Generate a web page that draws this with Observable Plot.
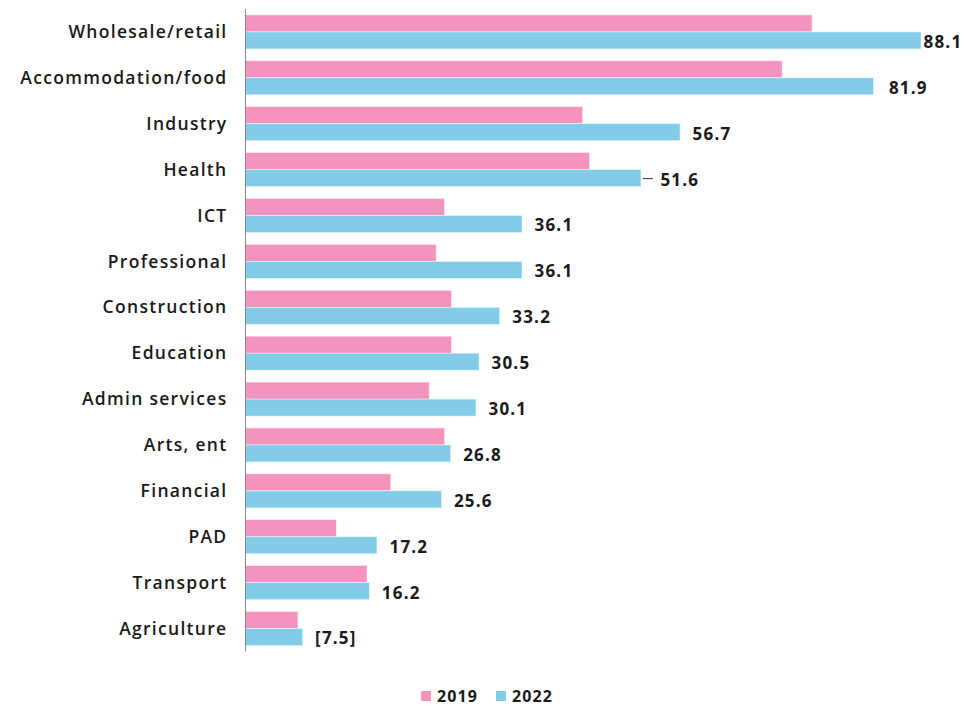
<!DOCTYPE html>
<html>
<head>
<meta charset="utf-8">
<script src="https://cdn.jsdelivr.net/npm/d3@7"></script>
<script src="https://cdn.jsdelivr.net/npm/@observablehq/plot@0.6"></script>
<style>
  html, body { margin: 0; padding: 0; background: #fff; }
  #chart { width: 978px; }
  #chart g[aria-label="y-axis tick label"] text { letter-spacing: 1.3px; }
  #chart g.vlabel text { letter-spacing: 1.2px; }
  .legend { position: relative; height: 36px; width: 978px; font-family: "Open Sans", sans-serif; font-weight: 700; font-size: 16px; color: #1a1a1a; letter-spacing: 1.1px; }
  .legend .items { position: absolute; left: 421px; top: 13px; display: flex; align-items: center; gap: 0; }
  .legend .sw { display: inline-block; width: 10px; height: 10px; margin-right: 6px; }
  .legend .it { display: flex; align-items: center; margin-right: 18px; }
</style>
</head>
<body>
<div id="chart"></div>
<script>
const categories = ["Wholesale/retail","Accommodation/food","Industry","Health","ICT","Professional","Construction","Education","Admin services","Arts, ent","Financial","PAD","Transport","Agriculture"];
const values2019 = [73.9, 70.0, 44.0, 44.9, 26.0, 24.9, 26.9, 26.9, 24.0, 26.0, 19.0, 11.9, 15.9, 6.9];
const values2022 = [88.1, 81.9, 56.7, 51.6, 36.1, 36.1, 33.2, 30.5, 30.1, 26.8, 25.6, 17.2, 16.2, 7.5];
const labels2022 = ["88.1","81.9","56.7","51.6","36.1","36.1","33.2","30.5","30.1","26.8","25.6","17.2","16.2","[7.5]"];
const seriesNames = ["2019","2022"];
const seriesColors = ["#f393be","#82cce8"];

const rows = categories.map((c, i) => ({category: c, v2019: values2019[i], v2022: values2022[i], label: labels2022[i], i}));

const H = 672, mTop = 9, mBottom = 20.5;
const padIn = 0.26, padOut = 0.13;
const step = (H - mTop - mBottom) / (categories.length - padIn + 2 * padOut);
const bw = step * (1 - padIn);
const half = bw / 2;
const maxV = d3.max(values2022);

const first = rows.filter(d => d.v2022 === maxV);
const leader = rows.filter(d => d.category === "Health");
const accom = rows.filter(d => d.category === "Accommodation/food");
const rest = rows.filter(d => d.v2022 !== maxV && d.category !== "Health" && d.category !== "Accommodation/food");

const labelStyle = {fontSize: 17, fontWeight: 700, fill: "#1a1a1a", textAnchor: "start", fontFamily: "Open Sans, sans-serif", className: "vlabel"};

const chart = Plot.plot({
  width: 978,
  height: H,
  marginTop: mTop,
  marginBottom: mBottom,
  marginLeft: 245,
  marginRight: 57,
  style: {fontFamily: "Open Sans, sans-serif", background: "#fff"},
  x: {domain: [0, maxV], axis: null},
  y: {domain: categories, paddingInner: padIn, paddingOuter: padOut, round: false, label: null, tickSize: 0, tickPadding: 18},
  marks: [
    Plot.axisY({tickSize: 0, tickPadding: 18, fontSize: 17.5, fontWeight: 600, fill: "#1a1a1a", label: null}),
    Plot.barX(rows, {y: "category", x: "v2019", fill: seriesColors[0], insetBottom: half, stroke: "#fde6f0", strokeWidth: 0.6}),
    Plot.barX(rows, {y: "category", x: "v2022", fill: seriesColors[1], insetTop: half, stroke: "#e3f5fc", strokeWidth: 0.6}),
    Plot.ruleX([0], {stroke: "#8a8a8a", strokeWidth: 1}),
    Plot.text(rest, {y: "category", x: "v2022", text: "label", dx: 12, dy: half / 2 + 1.5, ...labelStyle}),
    Plot.text(first, {y: "category", x: "v2022", text: "label", dx: 2, dy: half / 2 + 1.5, ...labelStyle}),
    Plot.text(accom, {y: "category", x: "v2022", text: "label", dx: 15, dy: half / 2 + 1.5, ...labelStyle}),
    Plot.ruleY(leader, {y: "category", x1: d => d.v2022 + 0.25, x2: d => d.v2022 + 1.55, dy: half / 2, stroke: "#333", strokeWidth: 1}),
    Plot.text(leader, {y: "category", x: "v2022", text: "label", dx: 19, dy: half / 2 + 1.5, ...labelStyle})
  ]
});
document.getElementById("chart").appendChild(chart);

const legend = document.createElement("div");
legend.className = "legend";
const items = document.createElement("div");
items.className = "items";
seriesNames.forEach((n, i) => {
  const it = document.createElement("span");
  it.className = "it";
  const sw = document.createElement("span");
  sw.className = "sw";
  sw.style.background = seriesColors[i];
  const t = document.createElement("span");
  t.textContent = n;
  it.appendChild(sw);
  it.appendChild(t);
  items.appendChild(it);
});
legend.appendChild(items);
document.body.appendChild(legend);
</script>
</body>
</html>
